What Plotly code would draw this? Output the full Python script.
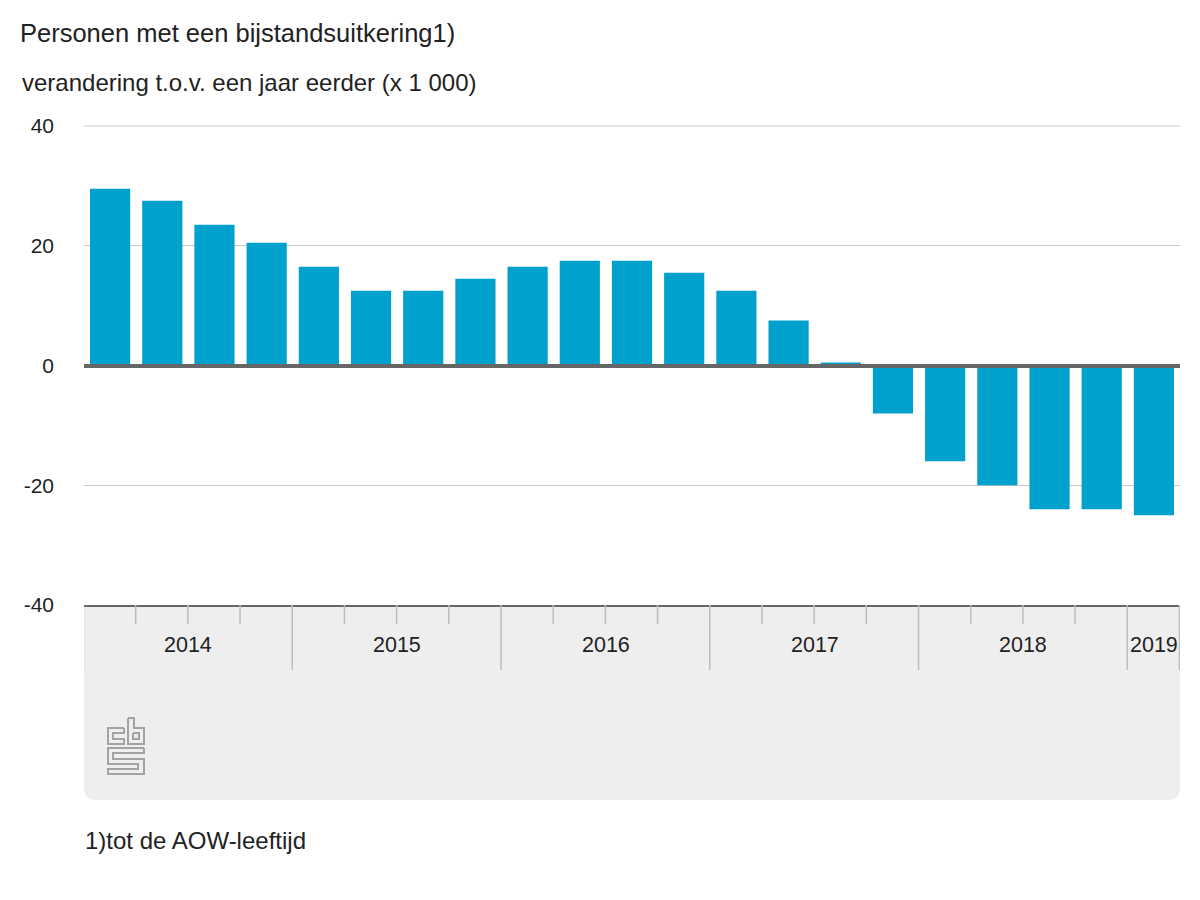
import plotly.graph_objects as go

# quarterly change, x 1 000
quarters = [
    "2014 Q1", "2014 Q2", "2014 Q3", "2014 Q4",
    "2015 Q1", "2015 Q2", "2015 Q3", "2015 Q4",
    "2016 Q1", "2016 Q2", "2016 Q3", "2016 Q4",
    "2017 Q1", "2017 Q2", "2017 Q3", "2017 Q4",
    "2018 Q1", "2018 Q2", "2018 Q3", "2018 Q4",
    "2019 Q1",
]
values = [29.5, 27.5, 23.5, 20.5, 16.5, 12.5, 12.5, 14.5, 16.5, 17.5, 17.5,
          15.5, 12.5, 7.5, 0.5, -8, -16, -20, -24, -24, -25]
y_ticks = [-40, -20, 0, 20, 40]
y_tick_labels = ["-40", "-20", "0", "20", "40"]

FONT = "Liberation Sans"
TEXT = "#222222"
W, H = 1200, 900
LEFT, RIGHT, TOP, BOTTOM = 84, 1180, 126, 605


def px_x(px):
    return (px - LEFT) / (RIGHT - LEFT)


def px_y(py):
    return (BOTTOM - py) / (BOTTOM - TOP)


shapes = []

# grey band under the axis with rounded bottom corners
r = 12
shapes.append(dict(
    type="path", xref="paper", yref="paper", layer="below",
    path=(f"M {px_x(LEFT)} {px_y(BOTTOM)} L {px_x(RIGHT)} {px_y(BOTTOM)} "
          f"L {px_x(RIGHT)} {px_y(800 - r)} Q {px_x(RIGHT)} {px_y(800)} {px_x(RIGHT - r)} {px_y(800)} "
          f"L {px_x(LEFT + r)} {px_y(800)} Q {px_x(LEFT)} {px_y(800)} {px_x(LEFT)} {px_y(800 - r)} Z"),
    fillcolor="#eeeeee", line_width=0,
))

# plotly leaves out the gridline at the top of the range
shapes.append(dict(
    type="line", xref="paper", yref="paper", x0=0, x1=1, y0=1, y1=1,
    line=dict(color="#c8c8c8", width=1), layer="below",
))

# ticks between the quarters, longer at a year boundary
years = [q.split()[0] for q in quarters]
for i in range(len(quarters) + 1):
    new_year = i == 0 or i == len(quarters) or years[i] != years[i - 1]
    shapes.append(dict(
        type="line", xref="x", yref="paper", x0=i - 0.51, x1=i - 0.51,
        y0=px_y(BOTTOM), y1=px_y(670 if new_year else 624),
        line=dict(color="#bdbdbd", width=1.5),
    ))

# cbs logo, drawn in pixels
logo_lines = [
    # c
    [(124, 728), (108, 728), (108, 744), (124, 744), (124, 739), (113, 739), (113, 733), (124, 733), (124, 728)],
    # b
    [(128, 718), (134, 718), (134, 728), (144, 728), (144, 744), (128, 744), (128, 718)],
    [(133, 733), (139, 733), (139, 739), (133, 739), (133, 733)],
    # s
    [(144, 748), (108, 748), (108, 764), (138, 764), (138, 769), (108, 769), (108, 774),
     (144, 774), (144, 759), (113, 759), (113, 753), (144, 753), (144, 748)],
]
for pts in logo_lines:
    path = "M " + " L ".join(f"{px_x(x)} {px_y(y)}" for x, y in pts)
    shapes.append(dict(type="path", xref="paper", yref="paper", path=path,
                       line=dict(color="#a3a3a3", width=2)))

annotations = []

# year labels centred under their quarters
for year in dict.fromkeys(years):
    idx = [i for i, y in enumerate(years) if y == year]
    annotations.append(dict(
        x=sum(idx) / len(idx), xref="x", y=px_y(645), yref="paper", text=year,
        yanchor="middle", showarrow=False, font=dict(size=21.5, color=TEXT, family=FONT),
    ))

for text, x, y, size in [
    ("Personen met een bijstandsuitkering1)", 18, 33, 25.5),
    ("verandering t.o.v. een jaar eerder (x 1 000)", 20, 82, 24),
    ("1)tot de AOW-leeftijd", 83, 840, 24),
]:
    annotations.append(dict(
        x=px_x(x), y=px_y(y), xref="paper", yref="paper", text=text,
        xanchor="left", yanchor="middle", showarrow=False,
        font=dict(size=size, color=TEXT, family=FONT),
    ))

fig = go.Figure(go.Bar(x=quarters, y=values, marker_color="#00a1cd", marker_line_width=0, width=0.77))

fig.update_layout(
    width=W, height=H,
    margin=dict(l=LEFT, r=W - RIGHT, t=TOP, b=H - BOTTOM, pad=0),
    paper_bgcolor="white", plot_bgcolor="white",
    showlegend=False, shapes=shapes, annotations=annotations,
    font=dict(family=FONT, color=TEXT, size=20),
)
fig.update_xaxes(
    type="category", range=[-0.5, len(quarters) - 0.5], showticklabels=False,
    showgrid=False, ticks="", showline=True, linecolor="#666666", linewidth=2,
)
fig.update_yaxes(
    range=[-40, 40], tickvals=y_ticks, ticktext=y_tick_labels,
    showgrid=True, gridcolor="#c8c8c8", gridwidth=1,
    zeroline=True, zerolinecolor="#666666", zerolinewidth=4, zerolinelayer="above traces",
    ticks="", ticklabelstandoff=29, tickfont=dict(size=21, color=TEXT, family=FONT),
    showline=False,
)

fig.write_html(
    "out.html",
    config={"displayModeBar": False},
    post_script="document.body.style.margin='0';document.body.style.overflow='hidden';",
)
